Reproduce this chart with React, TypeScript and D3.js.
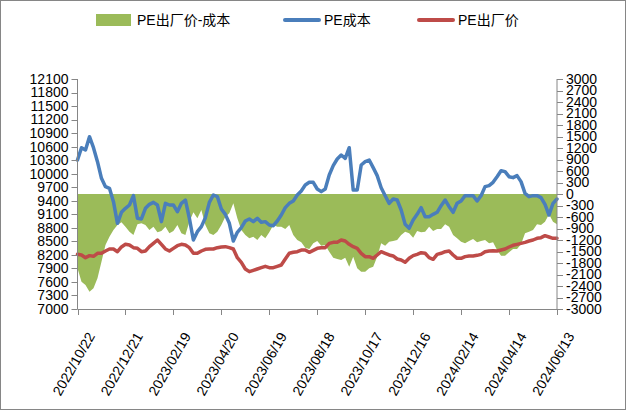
import React from 'react';
import * as d3 from 'd3';

// ---- data (sampled every 5 days starting 2022/10/22) ----
const START_DATE = '2022/10/22';
const END_DATE = '2024/06/13';
const STEP_DAYS = 5;

const costValues = [
  10304, 10577, 10526, 10821, 10577, 10267, 9897, 9713, 9676, 9380, 8900, 9144, 9232, 9306, 9513, 9011, 8996, 9232, 9321, 9365, 9306, 8937, 9343, 9306,
  9306, 9158, 9343, 9417, 9011, 8530, 8715, 8826, 9025, 9365, 9528, 9491, 9217, 9099, 8900, 8508, 8700, 8804, 8951, 8996, 8937, 9011, 8922, 8937,
  8863, 8848, 8951, 9084, 9247, 9343, 9395, 9528, 9617, 9750, 9809, 9809, 9661, 9602, 9661, 9971, 10178, 10326, 10415, 10341, 10577, 9639, 9639, 10193,
  10267, 10304, 10134, 9957, 9690, 9513, 9343, 9439, 9417, 9195, 8877, 8789, 8974, 9099, 9247, 9047, 9047, 9099, 9144, 9291, 9417, 9269, 9144, 9343,
  9395, 9513, 9513, 9513, 9395, 9513, 9713, 9735, 9809, 9934, 10067, 10045, 9934, 9912, 9957, 9824, 9565, 9491, 9513, 9513, 9469, 9321, 9084, 9343, 9439,
];

const priceValues = [
  8212, 8198, 8138, 8183, 8168, 8235, 8235, 8286, 8331, 8331, 8271, 8375, 8434, 8419, 8360, 8345, 8271, 8286, 8382, 8456, 8530, 8434, 8331, 8286,
  8345, 8404, 8434, 8419, 8360, 8235, 8235, 8286, 8323, 8331, 8331, 8360, 8375, 8382, 8360, 8331, 8138, 8035, 7887, 7828, 7858, 7887, 7917, 7946,
  7917, 7917, 7946, 7976, 8109, 8235, 8257, 8271, 8308, 8308, 8257, 8301, 8345, 8360, 8360, 8456, 8478, 8478, 8530, 8508, 8434, 8382, 8345, 8235,
  8161, 8161, 8124, 8198, 8271, 8235, 8198, 8176, 8109, 8087, 8035, 8124, 8183, 8212, 8249, 8235, 8138, 8102, 8212, 8235, 8271, 8286, 8198, 8124,
  8124, 8161, 8176, 8176, 8190, 8212, 8271, 8286, 8294, 8286, 8308, 8331, 8375, 8412, 8434, 8456, 8478, 8508, 8530, 8567, 8582, 8626, 8597, 8567, 8567,
];

const spreadValues = [
  -1939, -2287, -2374, -2548, -2461, -2200, -1765, -1331, -1113, -939, -809, -739, -852, -983, -1070, -791, -765, -809, -939, -852, -1000, -965, -852, -1026,
  -965, -809, -1026, -1070, -722, -478, -635, -417, -809, -1026, -1070, -983, -809, -591, -504, -244, -635, -939, -1070, -1157, -1113, -1200, -1070, -1157,
  -1000, -809, -852, -852, -913, -809, -1070, -1200, -1261, -1400, -1435, -1287, -1226, -1348, -1331, -1505, -1661, -1696, -1722, -1661, -1896, -1635, -1939, -2026,
  -2026, -1939, -1896, -1635, -1287, -1348, -1244, -1226, -1200, -1070, -983, -1026, -1139, -965, -1000, -983, -852, -965, -913, -913, -791, -852, -1070, -1157,
  -1244, -1287, -1226, -1174, -1261, -1226, -1200, -1287, -1261, -1461, -1609, -1609, -1522, -1435, -1435, -1313, -1026, -983, -939, -791, -809, -722, -531, -722, -791,
];

const leftTicks = [7000, 7300, 7600, 7900, 8200, 8500, 8800, 9100, 9400, 9700, 10000, 10300, 10600, 10900, 11200, 11500, 11800, 12100];
const rightTicks = [-3000, -2700, -2400, -2100, -1800, -1500, -1200, -900, -600, -300, 0, 300, 600, 900, 1200, 1500, 1800, 2100, 2400, 2700, 3000];
const dateTicks = ['2022/10/22', '2022/12/21', '2023/02/19', '2023/04/20', '2023/06/19', '2023/08/18', '2023/10/17', '2023/12/16', '2024/02/14', '2024/04/14', '2024/06/13'];

const seriesNames = ['PE出厂价-成本', 'PE成本', 'PE出厂价'];
const seriesColors = ['#9BBB59', '#4A7EBB', '#BE4B48'];

const W = 626;
const H = 410;
const PLOT = { left: 77.5, right: 557, top: 79, bottom: 309 };
const AXIS_COLOR = '#868686';
const FONT = '"Liberation Sans", Arial, sans-serif';
const CJK = '"Liberation Sans", "Noto Sans CJK SC", sans-serif';

export default function App() {
  const parse = d3.utcParse('%Y/%m/%d');
  const start = parse(START_DATE) as Date;
  const end = parse(END_DATE) as Date;
  const x = d3.scaleUtc().domain([start, end]).range([PLOT.left, PLOT.right]);
  const yL = d3.scaleLinear().domain([7000, 12100]).range([PLOT.bottom, PLOT.top]);
  const yR = d3.scaleLinear().domain([-3000, 3000]).range([PLOT.bottom, PLOT.top]);
  const dateAt = (i: number) => d3.utcDay.offset(start, i * STEP_DAYS);

  const area = d3
    .area<number>()
    .x((_, i) => x(dateAt(i)))
    .y0(yR(0))
    .y1((d) => yR(d));
  const lineL = d3
    .line<number>()
    .x((_, i) => x(dateAt(i)))
    .y((d) => yL(d));

  const legendY = 20;

  return (
    <svg width={W} height={H} style={{ position: 'absolute', left: 0, top: 0 }} xmlns="http://www.w3.org/2000/svg">
      <rect x={0.5} y={0.5} width={W - 1} height={H - 1} fill="#fff" stroke={AXIS_COLOR} />

      {/* legend */}
      <g fontFamily={CJK} fontSize={14} fill="#000">
        <rect x={96} y={legendY - 6} width={35} height={12} fill={seriesColors[0]} />
        <text x={137} y={legendY + 5}>{seriesNames[0]}</text>
        <line x1={285} x2={319} y1={legendY} y2={legendY} stroke={seriesColors[1]} strokeWidth={4} strokeLinecap="round" />
        <text x={324} y={legendY + 5}>{seriesNames[1]}</text>
        <line x1={419} x2={453} y1={legendY} y2={legendY} stroke={seriesColors[2]} strokeWidth={4} strokeLinecap="round" />
        <text x={458} y={legendY + 5}>{seriesNames[2]}</text>
      </g>

      {/* series */}
      <path d={area(spreadValues) || ''} fill={seriesColors[0]} />
      <path d={lineL(costValues) || ''} fill="none" stroke={seriesColors[1]} strokeWidth={3.5} strokeLinejoin="round" strokeLinecap="round" />
      <path d={lineL(priceValues) || ''} fill="none" stroke={seriesColors[2]} strokeWidth={3.5} strokeLinejoin="round" strokeLinecap="round" />

      {/* left axis */}
      <g fontFamily={FONT} fontSize={14} fill="#000">
        <line x1={PLOT.left} x2={PLOT.left} y1={PLOT.top} y2={PLOT.bottom} stroke={AXIS_COLOR} />
        {leftTicks.map((t) => (
          <g key={t}>
            <line x1={PLOT.left - 6} x2={PLOT.left} y1={Math.round(yL(t)) + 0.5} y2={Math.round(yL(t)) + 0.5} stroke={AXIS_COLOR} />
            <text x={PLOT.left - 9} y={yL(t)} dy="0.35em" textAnchor="end">{t}</text>
          </g>
        ))}
      </g>

      {/* right axis */}
      <g fontFamily={FONT} fontSize={14} fill="#000">
        <line x1={PLOT.right} x2={PLOT.right} y1={PLOT.top} y2={PLOT.bottom} stroke={AXIS_COLOR} />
        {rightTicks.map((t) => (
          <g key={t}>
            <line x1={PLOT.right} x2={PLOT.right + 6} y1={Math.round(yR(t)) + 0.5} y2={Math.round(yR(t)) + 0.5} stroke={AXIS_COLOR} />
            <text x={PLOT.right + 9} y={yR(t)} dy="0.35em" textAnchor="start">{t}</text>
          </g>
        ))}
      </g>

      {/* x axis */}
      <g fontFamily={FONT} fontSize={14} fill="#000">
        <line x1={PLOT.left} x2={PLOT.right} y1={PLOT.bottom + 0.5} y2={PLOT.bottom + 0.5} stroke={AXIS_COLOR} />
        {dateTicks.map((s) => {
          const tx = x(parse(s) as Date);
          return (
            <g key={s}>
              <line x1={Math.round(tx) + 0.5} x2={Math.round(tx) + 0.5} y1={PLOT.bottom} y2={PLOT.bottom + 6} stroke={AXIS_COLOR} />
              <text transform={`translate(${tx + 18},${PLOT.bottom + 27}) rotate(-60)`} textAnchor="end">{s}</text>
            </g>
          );
        })}
      </g>
    </svg>
  );
}
